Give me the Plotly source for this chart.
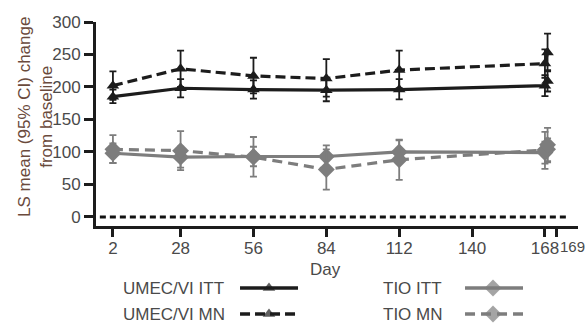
import plotly.graph_objects as go

# ---- data ----
days = [2, 28, 56, 84, 112, 168, 169]

umec_itt = [185, 198, 196, 195, 196, 202, 209]
umec_itt_lo = [175, 184, 182, 178, 181, 186, 193]
umec_itt_hi = [196, 212, 210, 212, 212, 218, 224]

umec_mn = [202, 228, 217, 213, 226, 236, 253]
umec_mn_lo = [180, 200, 190, 185, 198, 214, 226]
umec_mn_hi = [224, 256, 245, 243, 256, 258, 282]

tio_itt = [98, 92, 93, 93, 100, 99, 104]
tio_itt_lo = [83, 76, 78, 78, 84, 82, 86]
tio_itt_hi = [113, 108, 108, 110, 118, 116, 121]

tio_mn = [104, 102, 92, 73, 88, 103, 111]
tio_mn_lo = [83, 72, 62, 42, 57, 74, 84]
tio_mn_hi = [126, 132, 123, 104, 119, 131, 137]

tick_vals = [2, 28, 56, 84, 112, 140, 168]
tick_text = ["2", "28", "56", "84", "112", "140", "168"]
extra_tick_label = "169"

series_names = ["UMEC/VI ITT", "UMEC/VI MN", "TIO ITT", "TIO MN"]

BLACK = "#1c1c1c"
GRAY = "#7d7d7d"
TXT = "#4a4a4a"
FONT = "Liberation Sans, Arial, sans-serif"

def err(v, lo, hi):
    return dict(type="data", symmetric=False,
                array=[h - x for x, h in zip(v, hi)],
                arrayminus=[x - l for x, l in zip(v, lo)])

styles = [
    (umec_itt, umec_itt_lo, umec_itt_hi, BLACK, "solid", "triangle-up", 11),
    (umec_mn, umec_mn_lo, umec_mn_hi, BLACK, "10px,5px", "triangle-up", 11),
    (tio_itt, tio_itt_lo, tio_itt_hi, GRAY, "solid", "diamond", 13),
    (tio_mn, tio_mn_lo, tio_mn_hi, GRAY, "10px,6px", "diamond", 13),
]

fig = go.Figure()

# draw gray first, black on top
for idx in [2, 3, 0, 1]:
    v, lo, hi, col, dash, sym, sz = styles[idx]
    e = err(v, lo, hi)
    e.update(color=col, thickness=1.8, width=3.5)
    fig.add_trace(go.Scatter(
        x=days, y=v, mode="lines+markers", name=series_names[idx],
        line=dict(color=col, width=3.2, dash=dash),
        marker=dict(symbol=sym, size=sz, color=col, line=dict(width=0)),
        error_y=e, showlegend=False, xaxis="x", yaxis="y"))

# legend samples drawn on a hidden axis pair below the plot (paper-like coords)
leg_rows = [0.119, 0.033]
leg_cols = [(0.2988, 0.3589, 0.4191), (0.7656, 0.8237, 0.8859)]
leg_text_x = [0.052, 0.592]
for idx in range(4):
    v, lo, hi, col, dash, sym, sz = styles[idx]
    col_i = 0 if idx < 2 else 1
    row_i = idx % 2
    x0, xm, x1 = leg_cols[col_i]
    yy = leg_rows[row_i]
    fig.add_trace(go.Scatter(
        x=[x0, xm, x1], y=[yy, yy, yy], mode="lines+markers",
        line=dict(color=col, width=3.5, dash=dash),
        marker=dict(symbol=sym, size=[0, sz, 0], color=col, line=dict(width=0)),
        showlegend=False, hoverinfo="skip", xaxis="x2", yaxis="y2"))
    fig.add_annotation(x=leg_text_x[col_i], y=yy, xref="paper", yref="paper",
                       text=series_names[idx], showarrow=False, xanchor="left",
                       yanchor="middle", font=dict(size=17, color=TXT, family=FONT))

# zero reference line
fig.add_shape(type="line", xref="paper", yref="y", x0=0.008, x1=0.98, y0=0, y1=0,
              line=dict(color="#111111", width=3, dash="6px,4px"))

# x title and extra tick label
fig.add_annotation(x=0.477, y=0.179, xref="paper", yref="paper", text="Day",
                   showarrow=False, xanchor="center", yanchor="middle",
                   font=dict(size=17, color=TXT, family=FONT))
fig.add_annotation(x=173.0, y=0.256, xref="x", yref="paper", text=extra_tick_label,
                   showarrow=False, xanchor="left", yanchor="middle",
                   font=dict(size=15, color=TXT, family=FONT))
# y title
fig.add_annotation(x=-0.127, y=0.685, xref="paper", yref="paper",
                   text="LS mean (95% CI) change<br>from baseline", textangle=-90,
                   showarrow=False, xanchor="center", yanchor="middle",
                   font=dict(size=17, color="#6a4a3c", family=FONT))

fig.update_layout(
    width=585, height=324,
    margin=dict(l=96, r=7, t=22, b=0),
    paper_bgcolor="white", plot_bgcolor="white",
    font=dict(family=FONT, size=17, color=TXT),
    xaxis=dict(domain=[0, 1], range=[-4.5, 180.7], tickmode="array",
               tickvals=tick_vals + [172.6], ticktext=tick_text + [""],
               tickangle=0, showline=True, linecolor=BLACK, linewidth=3,
               ticks="outside", ticklen=8, tickwidth=3, tickcolor=BLACK,
               ticklabelstandoff=-3,
               showgrid=False, zeroline=False, anchor="y",
               tickfont=dict(size=17, color=TXT)),
    yaxis=dict(domain=[0.3245, 1], range=[-14, 300], tickvals=[0, 50, 100, 150, 200, 250, 300],
               showline=True, linecolor=BLACK, linewidth=3, ticks="outside",
               ticklen=9, tickwidth=3, tickcolor=BLACK, showgrid=False, zeroline=False,
               anchor="x", tickfont=dict(size=17, color=TXT)),
    xaxis2=dict(domain=[0, 1], range=[0, 1], visible=False, anchor="y2"),
    yaxis2=dict(domain=[0, 0.25], range=[0, 0.25], visible=False, anchor="x2"),
)

fig.write_html("out.html", config={"displayModeBar": False},
               post_script="document.body.style.margin='0';document.body.style.overflow='hidden';")
